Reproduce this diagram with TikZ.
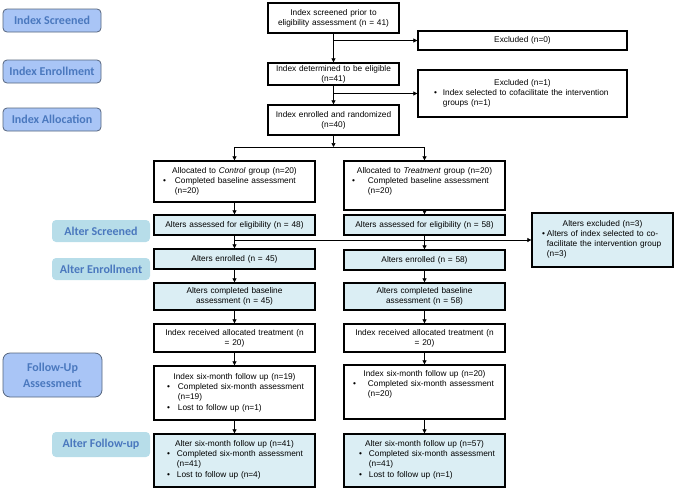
\documentclass[tikz,border=0pt]{standalone}
\usepackage{fontspec}
\setmainfont{Liberation Sans}
\newfontfamily\labfont{Carlito}
\usepackage{xcolor}
\usetikzlibrary{arrows.meta,positioning,calc}

\definecolor{idxfill}{HTML}{A9C5F6}
\definecolor{idxedge}{HTML}{56657D}
\definecolor{altfill}{HTML}{B7DDE9}
\definecolor{labtext}{HTML}{4A78BE}
\definecolor{boxfill}{HTML}{DBEEF4}

% bullet line: indent, gap, lines
\newcommand{\bitem}[3]{\hspace*{#1}\textbullet\hspace{#2}\begin{tabular}[t]{@{}l@{}}#3\end{tabular}\hfill\null}

\begin{document}
\begin{tikzpicture}[
  x=1pt, y=-1pt,
  font=\fontsize{8.3}{10}\selectfont,
  box/.style={draw, line width=1.3pt, align=center, inner sep=2pt, text width=157pt},
  alt/.style={box, fill=boxfill},
  idxlab/.style={draw=idxedge, fill=idxfill, rounded corners=4pt, line width=0.8pt, text=labtext,
    font=\labfont\bfseries\fontsize{12}{16}\selectfont, minimum width=98pt, minimum height=23pt,
    align=center, inner sep=1pt},
  altlab/.style={idxlab, draw=none, fill=altfill},
  link/.style={draw, line width=0.7pt},
  flow/.style={link, -{Triangle[length=4pt,width=4pt]}}
]
  \useasboundingbox (0,0) rectangle (676,490);

  % stage labels
  \node[idxlab] (lScr) at (52,20.5) {Index Screened};
  \node[idxlab] (lEnr) at (52,71.5) {Index Enrollment};
  \node[idxlab] (lAll) at (52,119.5) {Index Allocation};
  \node[altlab, minimum height=22pt] (lAscr) at (101,231) {Alter Screened};
  \node[altlab, minimum height=22pt] (lAenr) at (101,269) {Alter Enrollment};
  \node[idxlab, minimum width=99pt, minimum height=44pt, rounded corners=7pt] (lFu) at (52.5,375) {Follow-Up\\Assessment};
  \node[altlab, minimum height=25pt] (lAfu) at (101,444.5) {Alter Follow-up};

  % index part
  \node[box, text width=127pt, minimum height=30pt] (scr) at (333.5,18) {Index screened prior to\\eligibility assessment (n = 41)};
  \node[box, text width=205pt, minimum height=19pt] (exa) at (522.5,40.5) {Excluded (n=0)};
  \node[box, text width=127pt, minimum height=22pt] (elig) at (333.5,74) {Index determined to be eligible\\(n=41)};
  \node[box, text width=205pt, minimum height=47pt] (exb) at (522.5,93.5) {Excluded (n=1)\\\bitem{14pt}{6pt}{Index selected to cofacilitate the intervention\\groups (n=1)}};
  \node[box, text width=127pt, minimum height=30pt] (enr) at (333.5,120) {Index enrolled and randomized\\(n=40)};
  \coordinate (split) at (333.5,147);

  % control arm
  \node[box, minimum height=41pt] (ctl) at (234.5,181.5) {Allocated to \textit{Control} group (n=20)\\\bitem{7pt}{9pt}{Completed baseline assessment\\(n=20)}};
  \node[alt, minimum height=20pt] (asC) at (234.5,225) {Alters assessed for eligibility (n = 48)};
  \node[alt, minimum height=20pt] (enC) at (234.5,259) {Alters enrolled (n = 45)};
  \node[alt, minimum height=27pt] (blC) at (234.5,296.5) {Alters completed baseline\\assessment (n = 45)};
  \node[box, minimum height=28pt] (rxC) at (234.5,338) {Index received allocated treatment (n\\= 20)};
  \node[box, minimum height=54pt] (fuC) at (234.5,393) {Index six-month follow up (n=19)\\\bitem{11pt}{8pt}{Completed six-month assessment\\(n=19)}\\\bitem{11pt}{8pt}{Lost to follow up (n=1)}};
  \node[alt, minimum height=53pt] (afC) at (234.5,460.5) {Alter six-month follow up (n=41)\\\bitem{11pt}{7pt}{Completed six-month assessment\\(n=41)}\\\bitem{11pt}{7pt}{Lost to follow up (n=4)}};

  % treatment arm
  \node[box, minimum height=49pt] (trt) at (424.5,185.5) {Allocated to \textit{Treatment} group (n=20)\\\bitem{6pt}{13pt}{Completed baseline assessment\\(n=20)}\\[6pt]\mbox{}};
  \node[alt, minimum height=20pt] (asT) at (424.5,225) {Alters assessed for eligibility (n = 58)};
  \node[alt, text width=137pt, minimum height=54pt] (axc) at (602.5,240) {Alters excluded (n=3)\\\bitem{8pt}{2pt}{Alters of index selected to co-\\facilitate the intervention group\\(n=3)}};
  \node[alt, minimum height=20pt] (enT) at (424.5,260) {Alters enrolled (n = 58)};
  \node[alt, minimum height=27pt] (blT) at (424.5,296.5) {Alters completed baseline\\assessment (n = 58)};
  \node[box, minimum height=28pt] (rxT) at (424.5,338) {Index received allocated treatment (n\\= 20)};
  \node[box, minimum height=54pt] (fuT) at (424.5,392) {Index six-month follow up (n=20)\\\bitem{7pt}{12pt}{Completed six-month assessment\\(n=20)}\\[13pt]\mbox{}};
  \node[alt, minimum height=53pt] (afT) at (424.5,460.5) {Alter six-month follow up (n=57)\\\bitem{13pt}{7pt}{Completed six-month assessment\\(n=41)}\\\bitem{13pt}{7pt}{Lost to follow up (n=1)}};

  % connectors
  \path[flow] (scr) -- (elig);
  \path[flow] (scr.south |- exa.west) -- (exa.west);
  \path[flow] (elig) -- (enr);
  \path[flow] (elig.south |- exb.west) -- (exb.west);
  \path[flow] (enr) -- (split);
  \path[link] (ctl.north |- split) -- (trt.north |- split);
  \path[flow] (ctl.north |- split) -- (ctl);
  \path[flow] (trt.north |- split) -- (trt);
  \path[flow] (ctl) -- (asC);
  \path[flow] (trt) -- (asT);
  \path[flow] (asC.south |- axc.west) -- (axc.west);
  \path[flow] (asC) -- (enC);
  \path[flow] (asT) -- (enT);
  \path[flow] (enC) -- (blC);
  \path[flow] (enT) -- (blT);
  \path[flow] (blC) -- (rxC);
  \path[flow] (blT) -- (rxT);
  \path[flow] (rxC) -- (fuC);
  \path[flow] (rxT) -- (fuT);
  \path[flow] (fuC) -- (afC);
  \path[flow] (fuT) -- (afT);
\end{tikzpicture}
\end{document}
